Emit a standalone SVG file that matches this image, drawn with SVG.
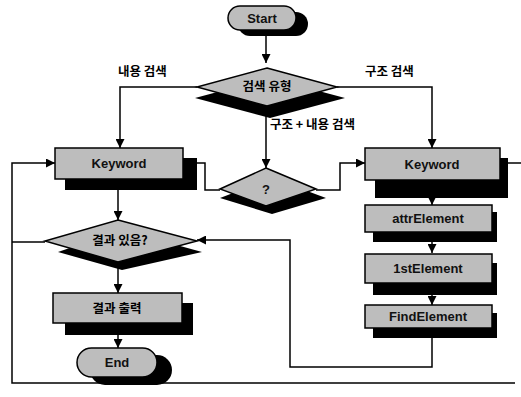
<svg xmlns="http://www.w3.org/2000/svg" width="521" height="397" viewBox="0 0 521 397">
<defs>
<marker id="ah" viewBox="0 0 10 10" refX="10" refY="5" markerWidth="9" markerHeight="9" markerUnits="userSpaceOnUse" orient="auto"><path d="M0,0 L10,5 L0,10 z" fill="#000"/></marker>
<style>
.sh{fill:#000}
.bx{fill:#bdbdbd;stroke:#000;stroke-width:1.5}
.t{font-family:"Liberation Sans",Arial,sans-serif;font-weight:bold;font-size:13px;fill:#111;text-anchor:middle}
.k{font-family:"Noto Sans CJK KR","Liberation Sans",sans-serif;font-weight:bold;font-size:12.5px;fill:#000}
.ln{fill:none;stroke:#000;stroke-width:1.5}
</style>
</defs>
<rect width="521" height="397" fill="#fff"/>
<g id="connectors">
<path class="ln" d="M266,31 V63" marker-end="url(#ah)"/>
<path class="ln" d="M197,87 H120 V148" marker-end="url(#ah)"/>
<path class="ln" d="M337,87 H432 V148" marker-end="url(#ah)"/>
<path class="ln" d="M266,104 V168" marker-end="url(#ah)"/>
<path class="ln" d="M197,163 H205 V190 H220"/>
<path class="ln" d="M316,190 H340 V163 H365" marker-end="url(#ah)"/>
<path class="ln" d="M504,163 H521"/>
<path class="ln" d="M515,383 H12 V163 H55" marker-end="url(#ah)"/>
<path class="ln" d="M12,242 H45"/>
<path class="ln" d="M118,190 V220" marker-end="url(#ah)"/>
<path class="ln" d="M432,195 V205" marker-end="url(#ah)"/>
<path class="ln" d="M432,242 V253" marker-end="url(#ah)"/>
<path class="ln" d="M432,295 V305" marker-end="url(#ah)"/>
<path class="ln" d="M432,338 V367 H290 V240 H197" marker-end="url(#ah)"/>
<path class="ln" d="M118,262 V293" marker-end="url(#ah)"/>
<path class="ln" d="M118,335 V348" marker-end="url(#ah)"/>
</g>
<g id="start">
<rect class="sh" x="238" y="12" width="70" height="24" rx="12"/>
<rect class="bx" x="228" y="6" width="68" height="24" rx="12"/>
<text class="t" x="262" y="23">Start</text>
</g>
<g id="type">
<polygon class="sh" points="270,78 345,98 270,118 195,98"/>
<polygon class="bx" points="267,68 337,87 267,106 197,87"/>
<text class="k" x="267" y="91" text-anchor="middle">검색 유형</text>
</g>
<g id="labels">
<text class="k" x="118" y="76">내용 검색</text>
<text class="k" x="365" y="76">구조 검색</text>
<text class="k" x="270" y="129">구조 + 내용 검색</text>
</g>
<g id="keyword-left">
<rect class="sh" x="65" y="158" width="132" height="32"/>
<rect class="bx" x="55" y="148" width="128" height="31"/>
<text class="t" x="119" y="168">Keyword</text>
</g>
<g id="q">
<polygon class="sh" points="272,178 326,198 272,214 220,198"/>
<polygon class="bx" points="266,168 316,189 266,206 220,189"/>
<text class="t" x="266" y="194">?</text>
</g>
<g id="keyword-right">
<rect class="sh" x="375" y="158" width="133" height="40"/>
<rect class="bx" x="365" y="148" width="135" height="32"/>
<text class="t" x="432" y="169">Keyword</text>
</g>
<g id="attr">
<rect class="sh" x="373" y="212" width="124" height="30"/>
<rect class="bx" x="365" y="205" width="127" height="27"/>
<text class="t" x="428" y="223">attrElement</text>
</g>
<g id="first">
<rect class="sh" x="373" y="263" width="124" height="32"/>
<rect class="bx" x="365" y="254" width="127" height="29"/>
<text class="t" x="428" y="273">1stElement</text>
</g>
<g id="find">
<rect class="sh" x="373" y="313" width="124" height="25"/>
<rect class="bx" x="365" y="305" width="127" height="23"/>
<text class="t" x="428" y="321">FindElement</text>
</g>
<g id="check">
<polygon class="sh" points="122,230 202,252 122,270 58,252"/>
<polygon class="bx" points="118,220 197,241 118,262 45,241"/>
<text class="k" x="120" y="245" text-anchor="middle">결과 있음?</text>
</g>
<g id="result">
<rect class="sh" x="65" y="303" width="128" height="32"/>
<rect class="bx" x="53" y="293" width="129" height="30"/>
<text class="k" x="117" y="313" text-anchor="middle">결과 출력</text>
</g>
<g id="end">
<rect class="sh" x="90" y="355" width="82" height="30" rx="15"/>
<rect class="bx" x="77" y="348" width="80" height="29" rx="14.5"/>
<text class="t" x="117" y="367">End</text>
</g>
</svg>
